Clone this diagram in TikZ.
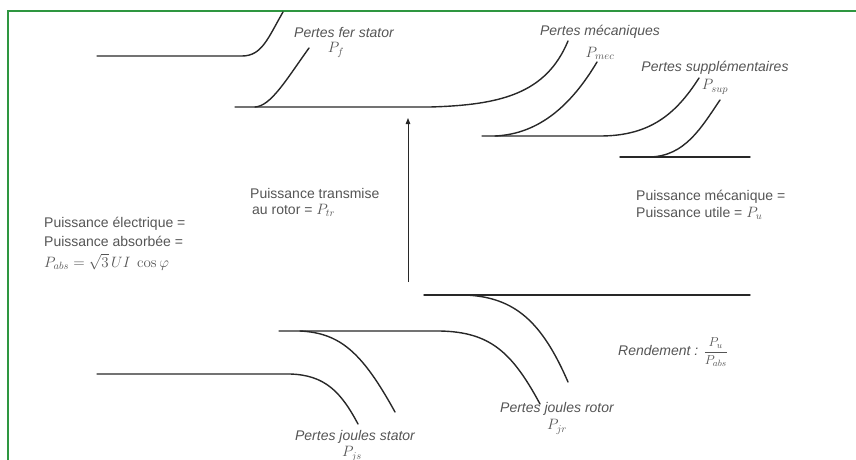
\RequirePackage{fix-cm}
\documentclass[tikz,border=0pt]{standalone}
\usepackage[no-math]{fontspec}
\setmainfont{Liberation Sans}
\usetikzlibrary{arrows.meta}

\definecolor{cadre}{RGB}{46,150,64}
\definecolor{trait}{RGB}{40,40,40}
\definecolor{texte}{RGB}{85,85,85}

\tikzset{
  flux/.style={draw=trait, line width=1.4pt, line cap=round},
  etiq/.style={text=texte, inner sep=0pt, font=\fontsize{14}{17}\selectfont},
  perte/.style={etiq, font=\fontsize{14}{17}\selectfont\itshape},
  symb/.style={text=texte, inner sep=0pt, font=\fontsize{15}{17}\selectfont},
}

% label of a loss with its symbol underneath
\NewDocumentCommand{\perte}{mmmmO{0,17}}{%
\node[perte] (#1) at (#2) {#3};%
\node[symb] (#1s) at ([shift={(#5)}]#1.center) {$#4$};%
}

\begin{document}
\begin{tikzpicture}[x=1pt, y=-1pt]
\useasboundingbox (0,0) rectangle (856,460);
\draw[cadre, line width=2pt] (8,460) -- (8,11) -- (856,11);

% stator
\draw[flux] (97,56) -- (242,56) .. controls (262,56) and (268,38) .. (283,12);
\draw[flux] (255,107) .. controls (271,106) and (286,80) .. (309,48);
% rotor and shaft
\draw[flux] (235,107) -- (430,107) .. controls (500,105) and (546,94) .. (568,41);
\draw[flux] (495,136) .. controls (540,134) and (572,104) .. (597,62);
\draw[flux] (482,136) -- (600,136) .. controls (650,136) and (676,114) .. (699,78);
\draw[flux] (650,157) .. controls (685,156) and (701,128) .. (720,100);
\draw[flux] (620,157) -- (750,157);

% joule losses
\draw[flux] (424,295) -- (750,295);
\draw[flux] (465,295) .. controls (515,297) and (542,322) .. (568,382);
\draw[flux] (279,331) -- (440,331) .. controls (490,332) and (512,352) .. (540,404);
\draw[flux] (300,331) .. controls (340,333) and (362,352) .. (395,412);
\draw[flux] (97,374) -- (290,374) .. controls (325,375) and (341,392) .. (358,424);

\coordinate (bas) at (408,282);
\coordinate (haut) at (408,118);
\draw[trait, line width=0.9pt, -{Triangle[length=6pt, width=4.5pt]}] (bas) -- (haut);

\perte{fer}{344,32}{Pertes fer stator}{P_f}[-8,18]
\perte{meca}{600,32}{Pertes mécaniques}{P_{mec}}[0,21]
\perte{supp}{715,68}{Pertes supplémentaires}{P_{sup}}[0,19]
\perte{jr}{557,409}{Pertes joules rotor}{P_{jr}}[0,18]
\perte{js}{355,437}{Pertes joules stator}{P_{js}}[-3,17]

\node[etiq, anchor=west] (tr1) at (250,193) {Puissance transmise};
\node[etiq, anchor=west] (tr2) at (252,210) {au rotor = {\fontsize{15}{17}\selectfont$P_{tr}$}};

\node[etiq, anchor=west] (abs1) at (44,224) {Puissance électrique =};
\node[etiq, anchor=west] (abs2) at (44,241) {Puissance absorbée =};
\node[symb, anchor=west] (abs3) at (44,262) {$P_{abs} = \sqrt{3}\,UI\ \cos\varphi$};

\node[etiq, anchor=west] (mec1) at (636,197) {Puissance mécanique =};
\node[etiq, anchor=west] (mec2) at (636,213) {Puissance utile = {\fontsize{15}{17}\selectfont$P_u$}};

\node[perte, anchor=west] (rend) at (618,352) {Rendement :
  {\upshape\fontsize{13}{15}\selectfont$\displaystyle\frac{P_u}{P_{abs}}$}};
\end{tikzpicture}
\end{document}
